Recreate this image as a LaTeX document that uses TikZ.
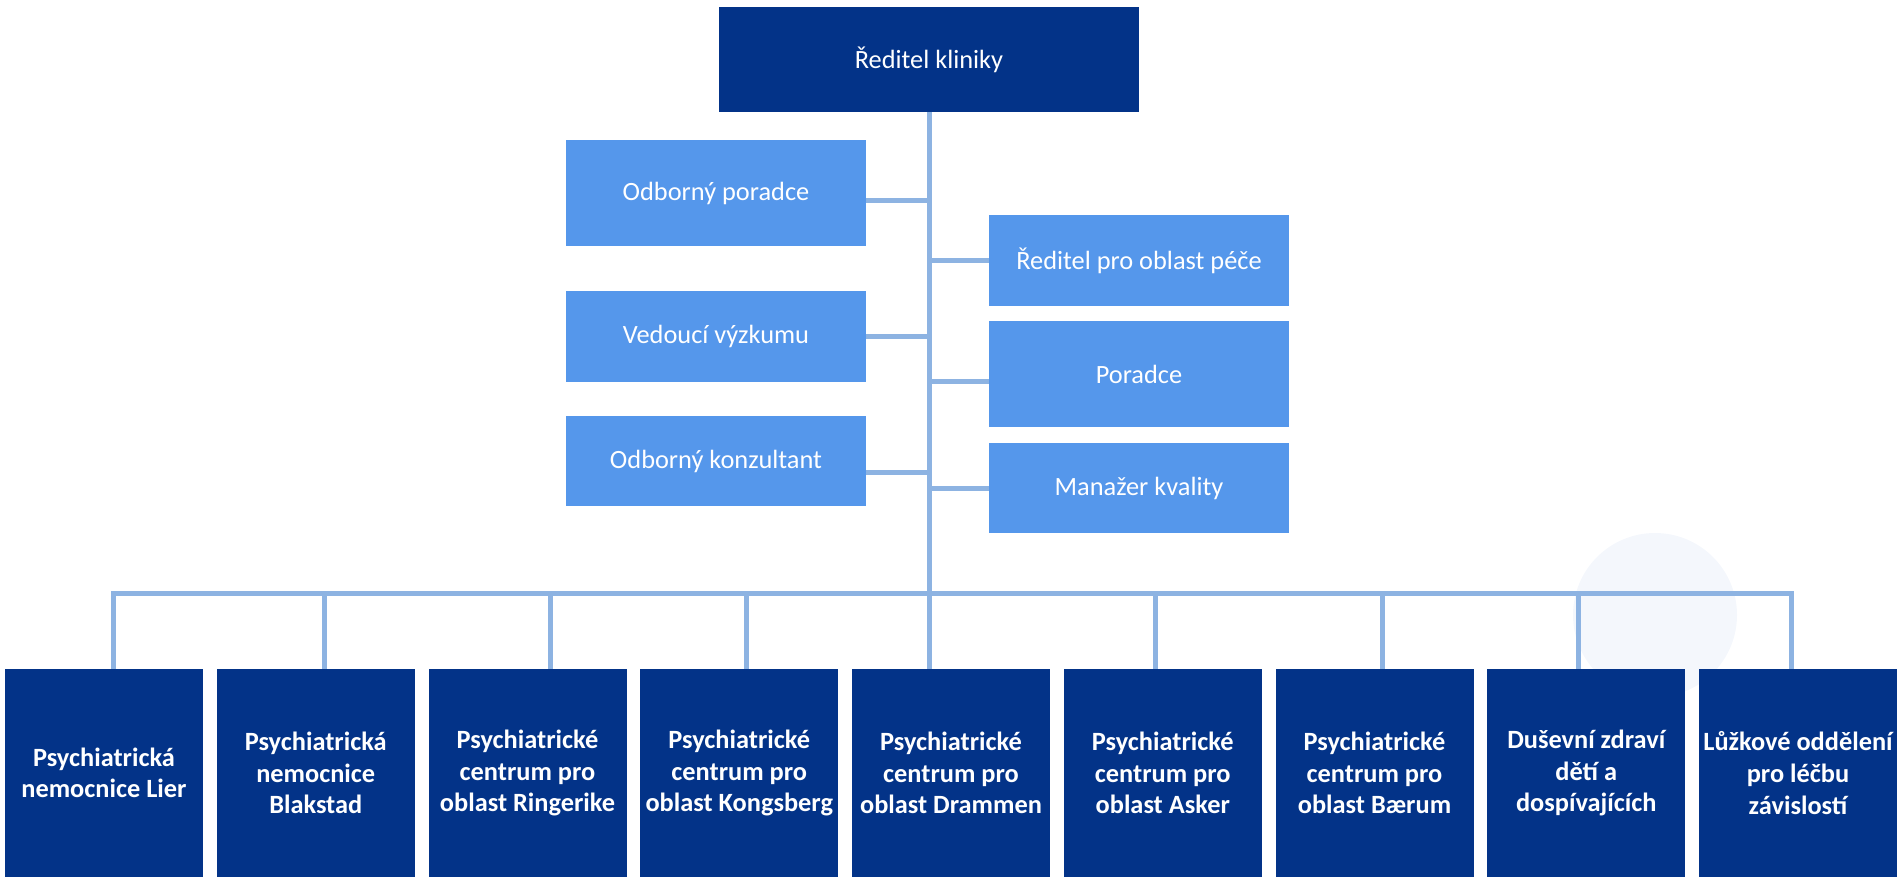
\documentclass[tikz,border=0pt]{standalone}
\usepackage{fontspec}
\setmainfont{Carlito}
\definecolor{darkbl}{RGB}{3,51,136}
\definecolor{midbl}{RGB}{85,151,235}
\definecolor{linkbl}{RGB}{141,179,226}
\definecolor{ghost}{RGB}{244,247,252}
\begin{document}
\begin{tikzpicture}[font=\fontsize{15}{18}\selectfont,
    top/.style={fill=darkbl,text=white,minimum width=8.4cm,minimum height=2.1cm},
    staff/.style={fill=midbl,text=white,minimum width=6cm,inner sep=0pt},
    unit/.style={fill=darkbl,text=white,font=\fontsize{15}{18}\selectfont\bfseries,
        minimum width=3.96cm,minimum height=4.16cm,inner sep=0pt,align=center},
    link/.style={draw=linkbl,line width=0.1cm}]
        \useasboundingbox (0,0) rectangle (37.98,-17.54);
        % faint watermark
        \fill[ghost] (33.1,-12.3) circle (1.64);
        \node[top] (dir) at (18.58,-1.19) {Ředitel kliniky};
        % staff on the left
        \node[staff,minimum height=2.12cm] (op) at (14.32,-3.86) {Odborný poradce};
        \node[staff,minimum height=1.82cm] (vv) at (14.32,-6.73) {Vedoucí výzkumu};
        \node[staff,minimum height=1.8cm] (ok) at (14.32,-9.22) {Odborný konzultant};
        % staff on the right
        \node[staff,minimum height=1.82cm] (rp) at (22.78,-5.21) {Ředitel pro oblast péče};
        \node[staff,minimum height=2.12cm] (por) at (22.78,-7.48) {Poradce};
        \node[staff,minimum height=1.8cm] (mk) at (22.78,-9.76) {Manažer kvality};
        % units
        \node[unit] (lier) at (2.08,-15.46) {Psychiatrická\\nemocnice Lier};
        \node[unit] (blak) at (6.315,-15.46) {Psychiatrická\\nemocnice\\Blakstad};
        \node[unit] (ring) at (10.55,-15.46) {Psychiatrické\\centrum pro\\oblast Ringerike};
        \node[unit] (kong) at (14.785,-15.46) {Psychiatrické\\centrum pro\\oblast Kongsberg};
        \node[unit] (dram) at (19.02,-15.46) {Psychiatrické\\centrum pro\\oblast Drammen};
        \node[unit] (asker) at (23.255,-15.46) {Psychiatrické\\centrum pro\\oblast Asker};
        \node[unit] (baer) at (27.49,-15.46) {Psychiatrické\\centrum pro\\oblast Bærum};
        \node[unit] (deti) at (31.725,-15.46) {Duševní zdraví\\dětí a\\dospívajících};
        \node[unit] (zav) at (35.96,-15.46) {Lůžkové oddělení\\pro léčbu\\závislostí};
        \coordinate (bus) at (18.58,-11.86);
        % lines
        \draw[link] (dir.south) -- (dir.south |- dram.north);
        \draw[link] ([yshift=-0.14cm]op.east) -- ([yshift=-0.14cm]op.east -| dir.south);
        \draw[link] (vv.east) -- (vv.east -| dir.south);
        \draw[link] ([yshift=-0.22cm]ok.east) -- ([yshift=-0.22cm]ok.east -| dir.south);
        \draw[link] (rp.west) -- (rp.west -| dir.south);
        \draw[link] ([yshift=-0.15cm]por.west) -- ([yshift=-0.15cm]por.west -| dir.south);
        \draw[link] (mk.west) -- (mk.west -| dir.south);
        \draw[link,line cap=rect] ([xshift=0.18cm]lier.north |- bus) -- ([xshift=-0.14cm]zav.north |- bus);
        \foreach \n/\dx in {lier/0.18,blak/0.17,ring/0.46,kong/0.14,asker/-0.14,baer/0.16,deti/-0.16,zav/-0.14}
            \draw[link] ([xshift=\dx cm]\n.north |- bus) -- ([xshift=\dx cm]\n.north);
\end{tikzpicture}
\end{document}
